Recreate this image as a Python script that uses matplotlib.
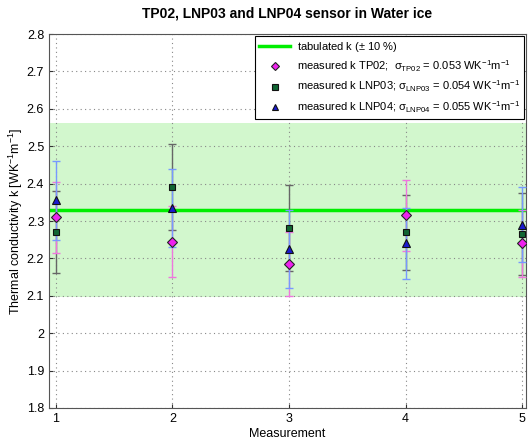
import matplotlib
matplotlib.use("Agg")
import matplotlib.pyplot as plt
import numpy as np

plt.rcParams['font.family'] = ['Liberation Sans', 'DejaVu Sans']
plt.rcParams['mathtext.fontset'] = 'custom'
plt.rcParams['mathtext.rm'] = 'Liberation Sans'
plt.rcParams['mathtext.it'] = 'Liberation Sans'
plt.rcParams['mathtext.sf'] = 'Liberation Sans'

measurement = [1, 2, 3, 4, 5]
k_tab = 2.33
tp02 = [2.31, 2.245, 2.185, 2.315, 2.24]
tp02_err = [0.095, 0.095, 0.085, 0.095, 0.09]
lnp03 = [2.27, 2.39, 2.28, 2.27, 2.265]
lnp03_err = [0.11, 0.115, 0.115, 0.1, 0.11]
lnp04 = [2.355, 2.335, 2.225, 2.24, 2.29]
lnp04_err = [0.105, 0.105, 0.105, 0.095, 0.1]
yticks = [1.8, 1.9, 2.0, 2.1, 2.2, 2.3, 2.4, 2.5, 2.6, 2.7, 2.8]
ytick_labels = ['1.8', '1.9', '2', '2.1', '2.2', '2.3', '2.4', '2.5', '2.6', '2.7', '2.8']

fig = plt.figure(figsize=(5.28, 4.41), dpi=100)
ax = fig.add_axes([49/528, 33/441, 476.5/528, 374/441])

ax.axhspan(k_tab*0.9, k_tab*1.1, color='#d2f7cd', zorder=0, lw=0)
ax.axhline(k_tab, color='#00ee00', lw=2.5, zorder=2,
           label=r'tabulated k ($\pm$ 10 %)')

ax.errorbar(measurement, lnp03, yerr=lnp03_err, fmt='none', ecolor='#666666',
            elinewidth=1, capsize=3, capthick=1, zorder=3)
ax.errorbar(measurement, tp02, yerr=tp02_err, fmt='none', ecolor='#ee77dd',
            elinewidth=1, capsize=3, capthick=1, zorder=3)
ax.errorbar(measurement, lnp04, yerr=lnp04_err, fmt='none', ecolor='#7799ff',
            elinewidth=1, capsize=3, capthick=1, zorder=3)

ax.plot(measurement, tp02, 'D', ms=5, mfc='#ee22ee', mec='#222222', mew=0.8,
        ls='none', zorder=4,
        label=r'measured k TP02;  $\sigma_{TP02}$ = 0.053 WK$^{-1}$m$^{-1}$')
ax.plot(measurement, lnp03, 's', ms=5, mfc='#116633', mec='#111111', mew=0.8,
        ls='none', zorder=4,
        label=r'measured k LNP03; $\sigma_{LNP03}$ = 0.054 WK$^{-1}$m$^{-1}$')
ax.plot(measurement, lnp04, '^', ms=6, mfc='#1a1ad0', mec='#111111', mew=0.8,
        ls='none', zorder=4,
        label=r'measured k LNP04; $\sigma_{LNP04}$ = 0.055 WK$^{-1}$m$^{-1}$')

ax.set_xlim(0.94, 5.03)
ax.set_ylim(1.8, 2.8)
ax.set_xticks(measurement)
ax.set_yticks(yticks)
ax.set_yticklabels(ytick_labels)
ax.tick_params(direction='in', labelsize=9, length=3, color='#333333')
ax.grid(True, linestyle=(0, (1, 3)), color='#888888', lw=0.8)
for s in ax.spines.values():
    s.set_color('#555555')

ax.set_xlabel('Measurement', fontsize=9, labelpad=2)
ax.set_ylabel(r'Thermal conductivity k [WK$^{-1}$m$^{-1}$]', fontsize=9,
              labelpad=1)
ax.set_title('TP02, LNP03 and LNP04 sensor in Water ice', fontsize=10,
             fontweight='bold', pad=12)

leg = ax.legend(loc='upper right', bbox_to_anchor=(1.0, 1.0), fontsize=8,
                frameon=True, fancybox=False, edgecolor='black', framealpha=1,
                borderaxespad=0.15, handlelength=2.8, labelspacing=0.45,
                markerscale=0.8, handletextpad=0.6, borderpad=0.35)
leg.get_frame().set_linewidth(0.8)

fig.savefig('out.png', dpi=100)
